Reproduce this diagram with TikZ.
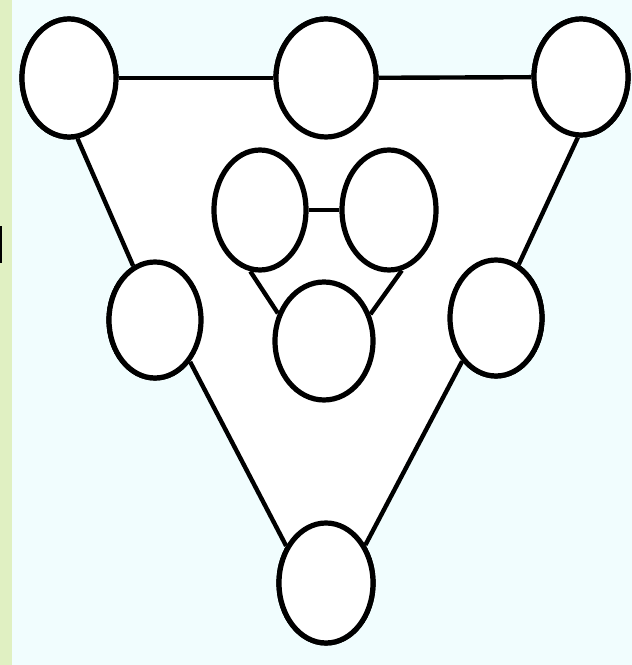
\documentclass[tikz,border=0pt]{standalone}
\usetikzlibrary{shapes.geometric}
\definecolor{bgcyan}{HTML}{F1FDFE}
\definecolor{strip}{HTML}{E0F0C2}
\tikzset{
  ring/.style={ellipse, draw=black, line width=5.2pt, fill=white, inner sep=0pt,
               minimum width=#1},
  ring/.default=94pt,
  link/.style={draw=black, line width=4.4pt}
}
\begin{document}
\begin{tikzpicture}[x=1pt,y=1pt]
  \useasboundingbox (0,0) rectangle (632,665);
  \fill[bgcyan] (0,0) rectangle (632,665);
  \fill[strip] (0,0) rectangle (12,665);
  \fill[black] (0,402) rectangle (2,439);

  % nodes
  \node[ring=94pt, minimum height=118pt] (tl) at (69,587) {};
  \node[ring=100pt, minimum height=118pt] (tm) at (326,587) {};
  \node[ring=94pt, minimum height=116pt] (tr) at (581,588) {};
  \node[ring=92pt, minimum height=116pt] (ml) at (155,345) {};
  \node[ring=92pt, minimum height=116pt] (mr) at (496,347) {};
  \node[ring=94pt, minimum height=120pt] (b) at (326,82) {};
  \node[ring=92pt, minimum height=120pt] (il) at (260,455) {};
  \node[ring=94pt, minimum height=120pt] (ir) at (389,455) {};
  \node[ring=98pt, minimum height=118pt] (ib) at (324,324) {};

  % white inner area
  \fill[white] (tl.center) -- (tr.center) -- (tr.-93.6) -- (mr.67.6) -- (mr.-128.9)
    -- (b.44.3) -- (b.center) -- (b.137.7) -- (ml.-50.9) -- (ml.112) -- (tl.-82.6) -- cycle;

  % connectors
  \draw[link] (tl) -- (tm);
  \draw[link] (tm) -- (tr);
  \draw[link] (tl.-82.6) -- (ml.112);
  \draw[link] (ml.-50.9) -- (b.137.7);
  \draw[link] (tr.-93.6) -- (mr.67.6);
  \draw[link] (mr.-128.9) -- (b.44.3);
  \draw[link] (il) -- (ir);
  \draw[link] (il.-99) -- (ib.149);
  \draw[link] (ir.-78) -- (ib.30);

  % redraw rings on top
  \foreach \n/\w/\h in {tl/94/118, tm/100/118, tr/94/116, ml/92/116, mr/92/116,
                        b/94/120, il/92/120, ir/94/120, ib/98/118} {
    \node[ring=\w pt, minimum height=\h pt] at (\n.center) {};
  }
\end{tikzpicture}
\end{document}
